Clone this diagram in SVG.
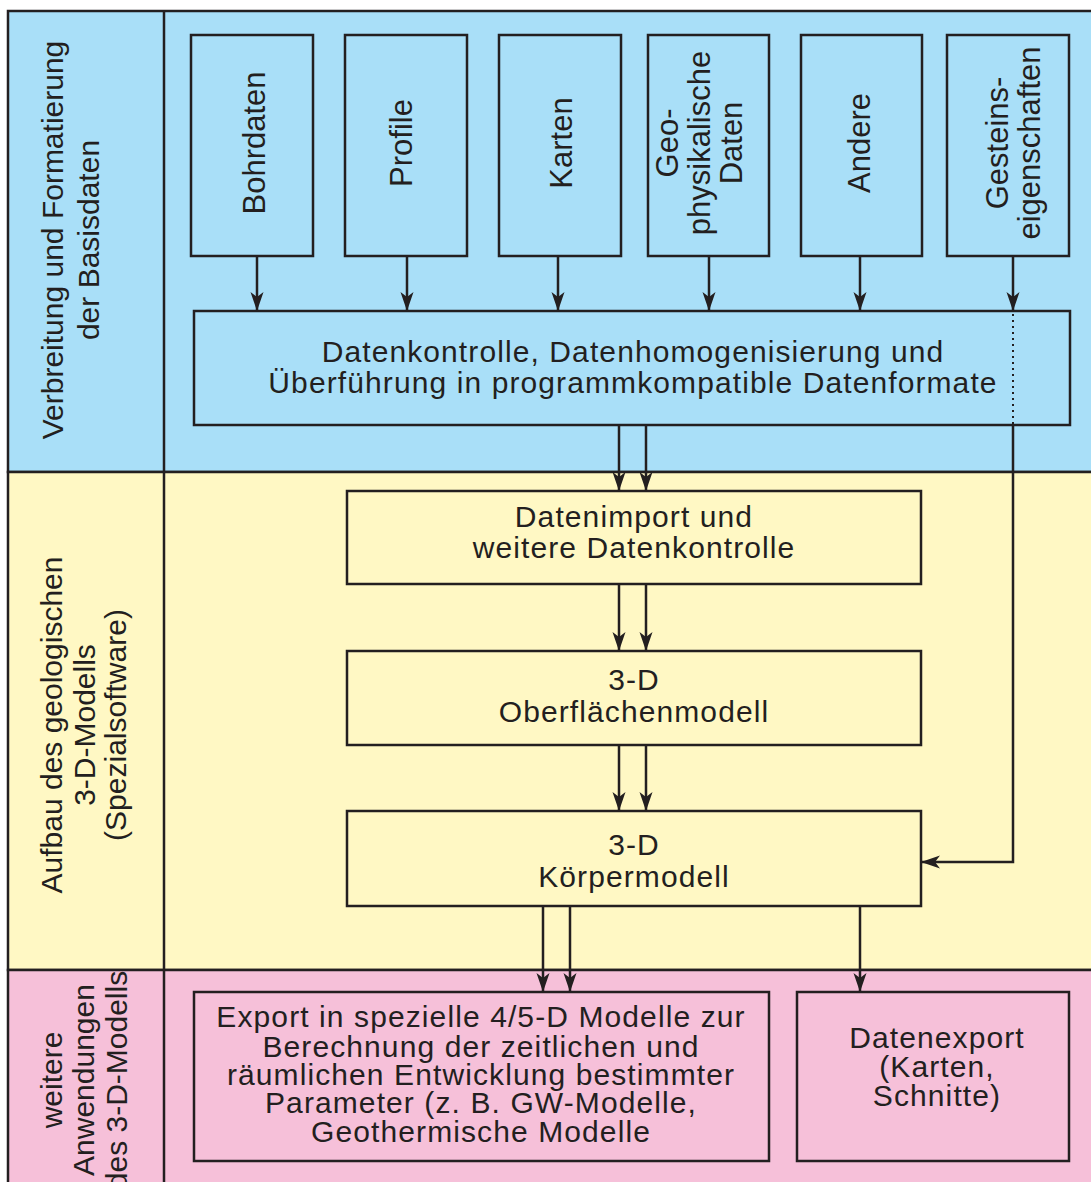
<svg xmlns="http://www.w3.org/2000/svg" width="1091" height="1182" viewBox="0 0 1091 1182">
<defs>
<style>
.t{font-family:"Liberation Sans",Arial,sans-serif;font-size:30px;letter-spacing:1.1px;fill:#231f20;text-anchor:middle}
.v{font-family:"Liberation Sans",Arial,sans-serif;font-size:31px;fill:#231f20;text-anchor:middle}
.l{font-family:"Liberation Sans",Arial,sans-serif;font-size:30px;fill:#231f20;text-anchor:middle}
.b{fill:none;stroke:#231f20;stroke-width:2.5}
.c{fill:none;stroke:#231f20;stroke-width:2.5}
</style>
<marker id="ah" markerUnits="userSpaceOnUse" markerWidth="20" markerHeight="14" viewBox="-19 -7 20 14" refX="0" refY="0" orient="auto">
<path d="M0,0 L-19,-6.5 L-14,0 L-19,6.5 Z" fill="#231f20"/>
</marker>
</defs>
<g id="bands">
<rect x="8" y="11" width="1100" height="461" fill="#a9dff8" stroke="#231f20" stroke-width="2.5"/>
<rect x="8" y="472" width="1100" height="498" fill="#fff8c4" stroke="#231f20" stroke-width="2.5"/>
<rect x="8" y="970" width="1100" height="230" fill="#f6c0d9" stroke="#231f20" stroke-width="2.5"/>
<line x1="164" y1="11" x2="164" y2="1190" stroke="#231f20" stroke-width="2.5"/>
</g>
<g id="lane-labels">
<text class="l" transform="translate(63,240) rotate(-90)"><tspan x="0" y="0">Verbreitung und Formatierung</tspan><tspan x="0" y="36">der Basisdaten</tspan></text>
<text class="l" transform="translate(62,725) rotate(-90)"><tspan x="0" y="0">Aufbau des geologischen</tspan><tspan x="0" y="33">3-D-Modells</tspan><tspan x="0" y="64">(Spezialsoftware)</tspan></text>
<text class="l" transform="translate(62,1080) rotate(-90)"><tspan x="0" y="0">weitere</tspan><tspan x="0" y="32">Anwendungen</tspan><tspan x="0" y="65">des 3-D-Modells</tspan></text>
</g>
<g id="n-bohrdaten"><rect class="b" x="191" y="35" width="122" height="221"/><text class="v" transform="translate(265,143) rotate(-90)">Bohrdaten</text></g>
<g id="n-profile"><rect class="b" x="345" y="35" width="122" height="221"/><text class="v" transform="translate(412,143) rotate(-90)">Profile</text></g>
<g id="n-karten"><rect class="b" x="499" y="35" width="122" height="221"/><text class="v" transform="translate(572,143) rotate(-90)">Karten</text></g>
<g id="n-geo"><rect class="b" x="648" y="35" width="121" height="221"/><text class="v" transform="translate(678,143) rotate(-90)"><tspan x="0" y="0">Geo-</tspan><tspan x="0" y="32">physikalische</tspan><tspan x="0" y="64">Daten</tspan></text></g>
<g id="n-andere"><rect class="b" x="801" y="35" width="121" height="221"/><text class="v" transform="translate(870,143) rotate(-90)">Andere</text></g>
<g id="n-gesteins"><rect class="b" x="947" y="35" width="122" height="221"/><text class="v" transform="translate(1008,143) rotate(-90)"><tspan x="0" y="0">Gesteins-</tspan><tspan x="0" y="32">eigenschaften</tspan></text></g>
<g id="n-datenkontrolle"><rect class="b" x="194" y="311" width="876" height="114"/><text class="t"><tspan x="633" y="362">Datenkontrolle, Datenhomogenisierung und</tspan><tspan x="633" y="393">Überführung in programmkompatible Datenformate</tspan></text></g>
<g id="n-datenimport"><rect class="b" x="347" y="491" width="574" height="93"/><text class="t"><tspan x="634" y="527">Datenimport und</tspan><tspan x="634" y="558">weitere Datenkontrolle</tspan></text></g>
<g id="n-oberflaeche"><rect class="b" x="347" y="651" width="574" height="94"/><text class="t"><tspan x="634" y="690">3-D</tspan><tspan x="634" y="722">Oberflächenmodell</tspan></text></g>
<g id="n-koerper"><rect class="b" x="347" y="811" width="574" height="95"/><text class="t"><tspan x="634" y="855">3-D</tspan><tspan x="634" y="887">Körpermodell</tspan></text></g>
<g id="n-export"><rect class="b" x="194" y="992" width="575" height="169"/><text class="t"><tspan x="481" y="1027">Export in spezielle 4/5-D Modelle zur</tspan><tspan x="481" y="1057">Berechnung der zeitlichen und</tspan><tspan x="481" y="1085">räumlichen Entwicklung bestimmter</tspan><tspan x="481" y="1113">Parameter (z. B. GW-Modelle,</tspan><tspan x="481" y="1142">Geothermische Modelle</tspan></text></g>
<g id="n-datenexport"><rect class="b" x="797" y="992" width="272" height="169"/><text class="t"><tspan x="937" y="1048">Datenexport</tspan><tspan x="937" y="1077">(Karten,</tspan><tspan x="937" y="1106">Schnitte)</tspan></text></g>
<g id="connectors">
<line class="c" x1="257" y1="256" x2="257" y2="311" marker-end="url(#ah)"/>
<line class="c" x1="407" y1="256" x2="407" y2="311" marker-end="url(#ah)"/>
<line class="c" x1="558" y1="256" x2="558" y2="311" marker-end="url(#ah)"/>
<line class="c" x1="709" y1="256" x2="709" y2="311" marker-end="url(#ah)"/>
<line class="c" x1="860" y1="256" x2="860" y2="311" marker-end="url(#ah)"/>
<line class="c" x1="1013" y1="256" x2="1013" y2="311" marker-end="url(#ah)"/>
<line x1="1013" y1="314" x2="1013" y2="424" stroke="#231f20" stroke-width="2" stroke-dasharray="2 4"/>
<polyline class="c" points="1013,425 1013,862 921,862" marker-end="url(#ah)"/>
<line class="c" x1="619" y1="425" x2="619" y2="491" marker-end="url(#ah)"/>
<line class="c" x1="646" y1="425" x2="646" y2="491" marker-end="url(#ah)"/>
<line class="c" x1="619" y1="584" x2="619" y2="651" marker-end="url(#ah)"/>
<line class="c" x1="646" y1="584" x2="646" y2="651" marker-end="url(#ah)"/>
<line class="c" x1="619" y1="745" x2="619" y2="811" marker-end="url(#ah)"/>
<line class="c" x1="646" y1="745" x2="646" y2="811" marker-end="url(#ah)"/>
<line class="c" x1="543" y1="906" x2="543" y2="992" marker-end="url(#ah)"/>
<line class="c" x1="570" y1="906" x2="570" y2="992" marker-end="url(#ah)"/>
<line class="c" x1="860" y1="906" x2="860" y2="992" marker-end="url(#ah)"/>
</g>
</svg>
